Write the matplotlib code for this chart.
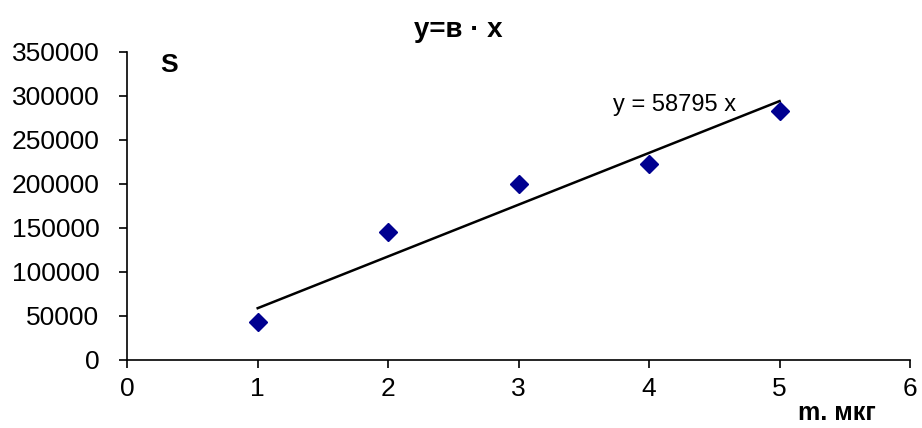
import matplotlib
matplotlib.use('Agg')
import matplotlib.pyplot as plt
import numpy as np

plt.rcParams['font.family'] = ['Liberation Sans', 'DejaVu Sans']

# data
mass = [1, 2, 3, 4, 5]
area = [43000, 145000, 200000, 222000, 283000]
slope = 58795
x_ticks = [0, 1, 2, 3, 4, 5, 6]
y_ticks = [0, 50000, 100000, 150000, 200000, 250000, 300000, 350000]

fig = plt.figure(figsize=(9.22, 4.28), dpi=100)
ax = fig.add_axes([0.138, 0.159, 0.849, 0.72])

# trend line through origin
xs = np.array([mass[0], mass[-1]])
ax.plot(xs, slope * xs, color='black', linewidth=1.8, zorder=2)
ax.plot(mass, area, linestyle='none', marker='D', markersize=9,
        color='#000090', zorder=3)

ax.set_xlim(0, 6)
ax.set_ylim(0, 350000)
ax.set_xticks(x_ticks)
ax.set_yticks(y_ticks)
ax.tick_params(labelsize=19, length=6, width=1.2, direction='out')
ax.tick_params(axis='y', pad=14)
ax.tick_params(axis='x', pad=6)
for s in ['top', 'right']:
    ax.spines[s].set_visible(False)
for s in ['left', 'bottom']:
    ax.spines[s].set_linewidth(1.2)

ax.text(3.72, 290000, 'y = 58795 x', fontsize=17, ha='left', va='center')
fig.text(0.174, 0.848, 'S', fontsize=19, fontweight='bold', ha='left', va='center')
fig.text(0.497, 0.93, 'y=в · x', fontsize=20, fontweight='bold', ha='center', va='center')
fig.text(0.908, 0.035, 'm. мкг', fontsize=18, fontweight='bold', ha='center', va='center')

fig.savefig('out.png', dpi=100)
